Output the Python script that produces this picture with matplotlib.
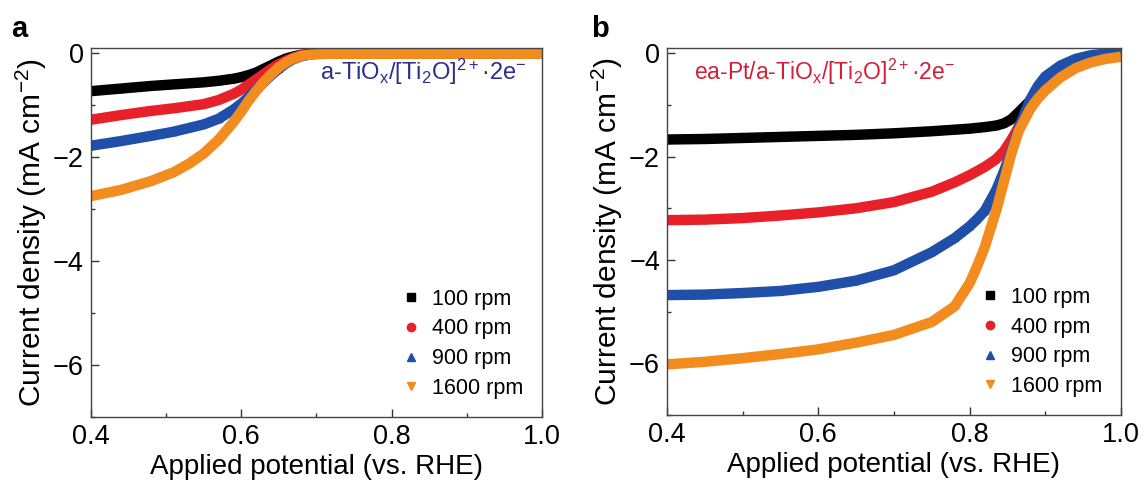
import matplotlib
matplotlib.use("Agg")
import matplotlib.pyplot as plt
from matplotlib.ticker import MultipleLocator

plt.rcParams['font.family'] = ['Liberation Sans', 'DejaVu Sans']
plt.rcParams['mathtext.fontset'] = 'custom'
plt.rcParams['mathtext.rm'] = 'Liberation Sans'
plt.rcParams['mathtext.it'] = 'Liberation Sans'

labels = ["100 rpm", "400 rpm", "900 rpm", "1600 rpm"]
colors = ["#000000", "#e8202a", "#1f4fa8", "#f28c1e"]
markers = ["s", "o", "^", "v"]

# Panel a: a-TiOx/[Ti2O]2+.2e-
a_v = [0.40, 0.44, 0.48, 0.51, 0.53, 0.55, 0.57, 0.59, 0.60, 0.61, 0.62, 0.63, 0.64,
       0.65, 0.66, 0.67, 0.68, 0.69, 0.70, 0.72, 0.75, 0.80, 0.85, 0.90, 0.95, 1.00]
a_100 = [-0.73, -0.68, -0.63, -0.60, -0.58, -0.56, -0.53, -0.49, -0.46, -0.42, -0.37, -0.30, -0.23,
         -0.16, -0.10, -0.06, -0.03, -0.015, -0.005, 0.0, 0.0, 0.0, 0.0, 0.0, 0.0, 0.0]
a_400 = [-1.28, -1.19, -1.11, -1.06, -1.02, -0.98, -0.90, -0.78, -0.70, -0.60, -0.50, -0.40, -0.30,
         -0.21, -0.14, -0.08, -0.04, -0.02, -0.01, 0.0, 0.0, 0.0, 0.0, 0.0, 0.0, 0.0]
a_900 = [-1.78, -1.69, -1.59, -1.51, -1.44, -1.37, -1.26, -1.08, -0.97, -0.84, -0.70, -0.56, -0.42,
         -0.30, -0.19, -0.11, -0.06, -0.03, -0.01, 0.0, 0.0, 0.0, 0.0, 0.0, 0.0, 0.0]
a_1600 = [-2.75, -2.63, -2.46, -2.29, -2.13, -1.93, -1.66, -1.32, -1.12, -0.91, -0.72, -0.55, -0.40,
          -0.27, -0.17, -0.10, -0.05, -0.03, -0.02, -0.01, -0.01, -0.01, -0.01, -0.01, -0.01, -0.01]

# Panel b: ea-Pt/a-TiOx/[Ti2O]2+.2e-
b_v = [0.40, 0.45, 0.50, 0.55, 0.60, 0.65, 0.70, 0.75, 0.78, 0.80, 0.81, 0.82, 0.835,
       0.845, 0.855, 0.865, 0.88, 0.89, 0.90, 0.92, 0.94, 0.96, 0.98, 1.00]
b_100 = [-1.67, -1.66, -1.64, -1.62, -1.60, -1.58, -1.55, -1.51, -1.48, -1.46, -1.445, -1.43, -1.40,
         -1.36, -1.28, -1.14, -0.92, -0.78, -0.63, -0.36, -0.17, -0.07, -0.02, 0.0]
b_400 = [-3.23, -3.22, -3.19, -3.14, -3.08, -3.00, -2.88, -2.68, -2.50, -2.36, -2.28, -2.20, -2.05,
         -1.90, -1.68, -1.42, -1.05, -0.82, -0.62, -0.32, -0.15, -0.06, -0.02, 0.0]
b_900 = [-4.68, -4.67, -4.64, -4.60, -4.52, -4.40, -4.20, -3.85, -3.58, -3.35, -3.21, -3.05, -2.65,
         -2.30, -1.90, -1.45, -0.90, -0.64, -0.45, -0.24, -0.11, -0.04, -0.01, 0.0]
b_1600 = [-6.02, -5.97, -5.90, -5.82, -5.73, -5.60, -5.45, -5.20, -4.90, -4.45, -4.12, -3.75, -3.05,
          -2.50, -1.95, -1.50, -1.08, -0.88, -0.72, -0.47, -0.29, -0.18, -0.11, -0.07]

fig = plt.figure(figsize=(11.47, 4.87), dpi=100)
ax_a = fig.add_axes([0.0793, 0.1437, 0.3932, 0.7577])
ax_b = fig.add_axes([0.5815, 0.1478, 0.3958, 0.7536])

def draw(ax, v, series, title, tcolor, tx, ha, tsize):
    for i, (y, c, m, lab) in enumerate(zip(series, colors, markers, labels)):
        z = 2 + 0.1 * i
        ax.plot(v, y, color=c, lw=7.5, solid_capstyle='butt', solid_joinstyle='round', zorder=z)
        ax.plot(v, y, linestyle='none', marker=m, ms=4.5, color=c, mec=c, zorder=z + 0.01)
        ax.plot([], [], linestyle='none', marker=m, ms=6, color=c, mec=c, label=lab)
    ax.set_xlim(0.4, 1.0)
    ax.set_ylim(-7, 0.1)
    ax.xaxis.set_major_locator(MultipleLocator(0.2))
    ax.xaxis.set_minor_locator(MultipleLocator(0.1))
    ax.yaxis.set_major_locator(MultipleLocator(2))
    ax.yaxis.set_minor_locator(MultipleLocator(1))
    ax.xaxis.set_major_formatter(plt.FuncFormatter(lambda x, p: f"{x:.1f}"))
    ax.yaxis.set_major_formatter(plt.FuncFormatter(lambda x, p: f"{x:.0f}".replace('-', '\u2212')))
    ax.tick_params(which='major', direction='in', length=6, width=1, labelsize=19.5,
                   top=False, right=False, pad=5, color='#333333')
    ax.tick_params(which='minor', direction='in', length=3, width=1,
                   top=False, right=False, color='#333333')
    for s in ax.spines.values():
        s.set_color('#444444')
        s.set_linewidth(1.0)
    ax.set_xlabel("Applied potential (vs. RHE)", fontsize=20, labelpad=3)
    ax.set_ylabel("Current density (mA cm$^{-2}$)", fontsize=21.5, labelpad=3)
    ax.text(tx, 0.935, title, transform=ax.transAxes, color=tcolor, fontsize=tsize,
            ha=ha, va='center')
    ax.legend(loc='lower right', bbox_to_anchor=(1.0, 0.0), frameon=False,
              fontsize=15.5, handlelength=0.8, handletextpad=0.6,
              labelspacing=0.4, borderaxespad=0.45)

draw(ax_a, a_v, [a_100, a_400, a_900, a_1600],
     "a-TiO$_{x}$/[Ti$_{2}$O]$^{2+}$\u00b72e$^{\u2212}$", "#2b2f8c", 0.966, 'right', 17)
draw(ax_b, b_v, [b_100, b_400, b_900, b_1600],
     "ea-Pt/a-TiO$_{x}$/[Ti$_{2}$O]$^{2+}$\u00b72e$^{\u2212}$", "#d0203a", 0.06, 'left', 16.5)

fig.text(0.010, 0.925, "a", fontsize=21, fontweight='bold')
fig.text(0.515, 0.925, "b", fontsize=21, fontweight='bold')

fig.savefig("out.png", dpi=100)
